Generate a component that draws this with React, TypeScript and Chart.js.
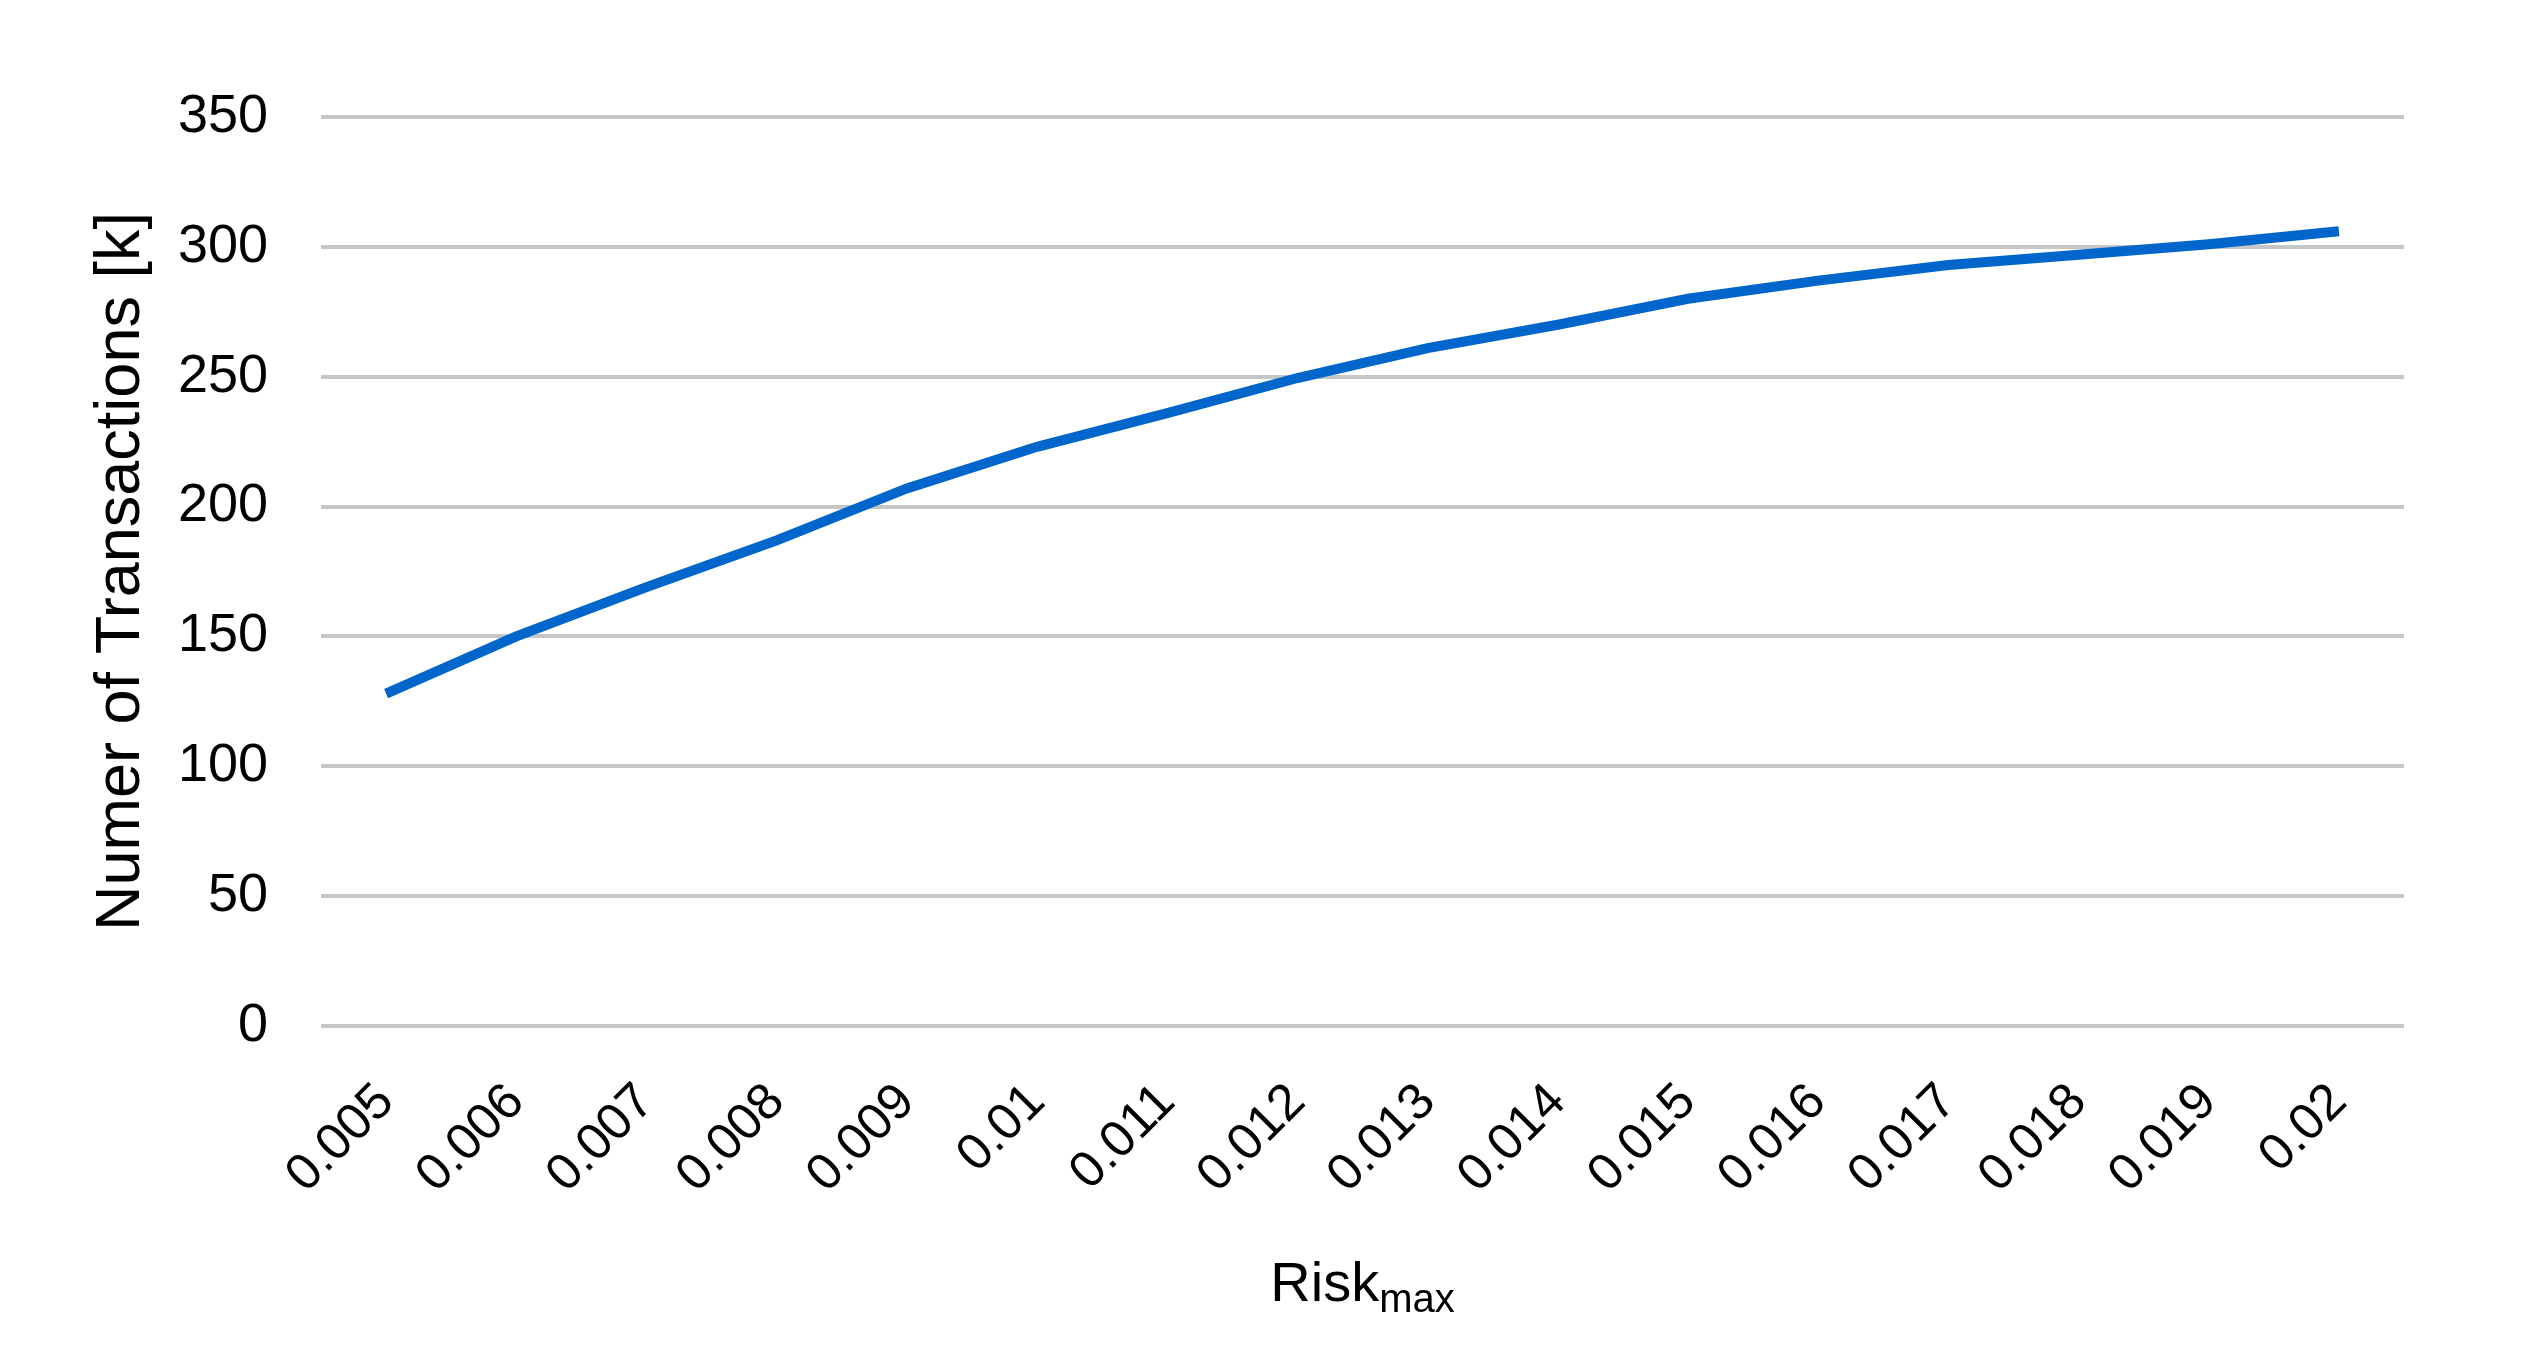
import React, { useEffect, useRef } from 'react';
import { Chart, registerables } from 'chart.js';

Chart.register(...registerables);

const categories = ['0.005', '0.006', '0.007', '0.008', '0.009', '0.01', '0.011', '0.012', '0.013', '0.014', '0.015', '0.016', '0.017', '0.018', '0.019', '0.02'];
const transactions = [128, 150, 169, 187, 207, 223, 236, 249.5, 261, 270, 280, 287, 293, 297, 301, 306];
const yMin = 0;
const yMax = 350;
const yStep = 50;
const yAxisTitle = 'Numer of Transactions [k]';
const xTitleMain = 'Risk';
const xTitleSub = 'max';

const FONT = "'Liberation Sans', Arial, sans-serif";

const xTitlePlugin = {
  id: 'xTitleSub',
  afterDraw(chart: any) {
    const { ctx, chartArea } = chart;
    const mainFont = `56px ${FONT}`;
    const subFont = `40px ${FONT}`;
    ctx.save();
    ctx.font = mainFont;
    const wMain = ctx.measureText(xTitleMain).width;
    ctx.font = subFont;
    const wSub = ctx.measureText(xTitleSub).width;
    const total = wMain + wSub;
    const cx = (chartArea.left + chartArea.right) / 2;
    const x0 = cx - total / 2;
    const baseY = chartArea.bottom + 275;
    ctx.fillStyle = '#000000';
    ctx.textBaseline = 'alphabetic';
    ctx.textAlign = 'left';
    ctx.font = mainFont;
    ctx.fillText(xTitleMain, x0, baseY);
    ctx.font = subFont;
    ctx.fillText(xTitleSub, x0 + wMain, baseY + 11);
    ctx.restore();
  },
};

export default function App() {
  const canvasRef = useRef<HTMLCanvasElement | null>(null);

  useEffect(() => {
    if (!canvasRef.current) return;
    const chart = new Chart(canvasRef.current, {
      type: 'line',
      data: {
        labels: categories,
        datasets: [
          {
            label: 'Transactions',
            data: transactions,
            borderColor: '#0066CC',
            backgroundColor: '#0066CC',
            borderWidth: 10,
            pointRadius: 0,
            tension: 0,
            fill: false,
          },
        ],
      },
      options: {
        animation: false,
        responsive: true,
        maintainAspectRatio: false,
        layout: { padding: { left: 0, top: 117, right: 141, bottom: 0 } },
        plugins: {
          legend: { display: false },
          tooltip: { enabled: false },
          title: { display: false },
        },
        scales: {
          x: {
            type: 'category',
            offset: true,
            grid: { display: false, drawTicks: false },
            border: { display: false },
            ticks: {
              color: '#000000',
              font: { family: FONT, size: 51 },
              maxRotation: 45,
              minRotation: 45,
              autoSkip: false,
              padding: 46,
            },
            afterFit(scale: any) {
              scale.height = 324;
            },
          },
          y: {
            min: yMin,
            max: yMax,
            grid: { color: '#C6C6C6', lineWidth: 4, drawTicks: false },
            border: { display: false },
            ticks: {
              stepSize: yStep,
              color: '#000000',
              font: { family: FONT, size: 54 },
              padding: 53,
            },
            title: {
              display: true,
              text: yAxisTitle,
              color: '#000000',
              font: { family: FONT, size: 63 },
              padding: { top: 84, bottom: 0 },
            },
            afterFit(scale: any) {
              scale.width = 321;
            },
          },
        },
      },
      plugins: [xTitlePlugin],
    });
    return () => chart.destroy();
  }, []);

  return (
    <div style={{ position: 'fixed', left: 0, top: 0, width: 2545, height: 1350, background: '#ffffff' }}>
      <canvas ref={canvasRef} />
    </div>
  );
}
